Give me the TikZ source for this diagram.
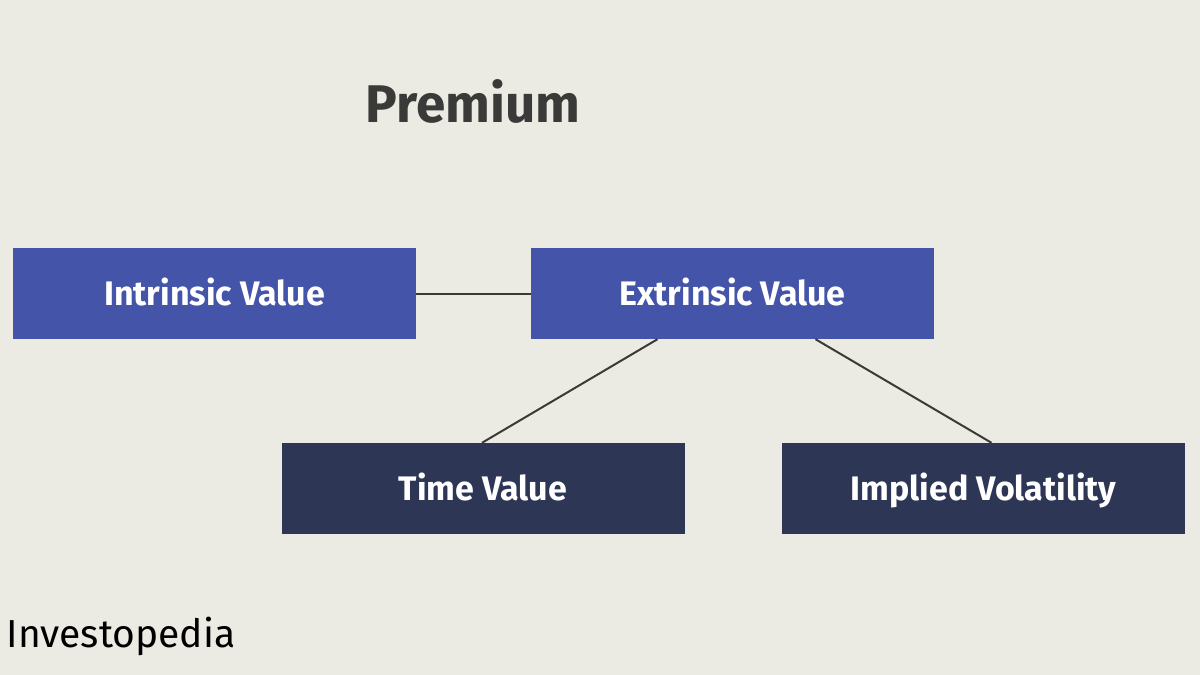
\documentclass[tikz,border=0pt]{standalone}
\usepackage{fontspec}
\setmainfont{Fira Sans}
\definecolor{bg}{HTML}{ECEBE3}
\definecolor{blueb}{HTML}{4454A9}
\definecolor{darkb}{HTML}{2E3656}
\definecolor{ttl}{HTML}{3A3A38}
\begin{document}
\begin{tikzpicture}[x=1pt,y=-1pt,
  box/.style={minimum width=403pt,minimum height=91pt,inner sep=0pt,text height=27pt,text depth=4pt,text=white,font=\fontsize{34}{40}\selectfont\bfseries},
  conn/.style={draw=ttl,line width=2pt}]
\fill[bg] (0,0) rectangle (1200,675);
\useasboundingbox (0,0) rectangle (1200,675);
\node[font=\fontsize{53}{60}\selectfont\bfseries,text=ttl] (title) at (473,101) {Premium};
\node[box,fill=blueb] (iv) at (214.5,293.5) {Intrinsic Value};
\node[box,fill=blueb] (ev) at (732.5,293.5) {Extrinsic Value};
\node[box,fill=darkb] (tv) at (483,488.5) {Time Value};
\node[box,fill=darkb] (vol) at (983.5,488.5) {Implied Volatility};
\draw[conn] (iv.east) -- (ev.west);
\draw[conn] ([xshift=-75pt]ev.south) -- ([xshift=-1pt]tv.north);
\draw[conn] ([xshift=83pt]ev.south) -- ([xshift=8pt]vol.north);
\node[anchor=west,font=\fontsize{39}{44}\selectfont,text=black] (logo) at (3,636) {Investopedia};
\end{tikzpicture}
\end{document}
